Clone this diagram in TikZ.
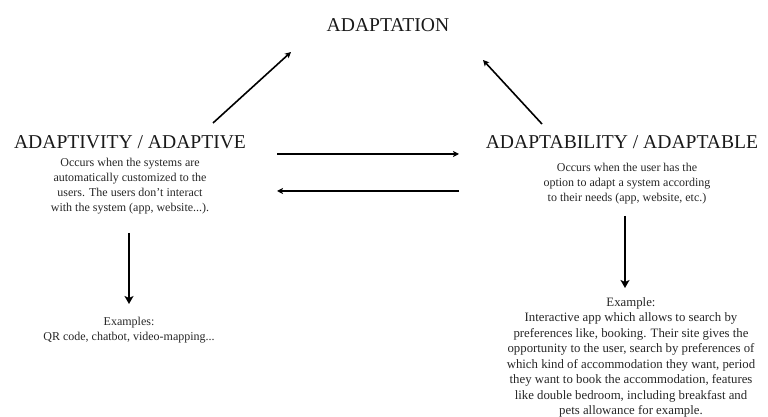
\documentclass[tikz,border=0pt]{standalone}
\usepackage{fontspec}
\setmainfont{Liberation Serif}
\usetikzlibrary{arrows.meta, positioning}
\tikzset{
    title/.style={font=\fontsize{19.6}{22}\selectfont, inner sep=0pt, text=black!90},
    body/.style={font=\fontsize{12}{15}\selectfont, align=center, inner sep=0pt, text=black!85},
    arrow/.style={-{Stealth[length=6pt, width=6pt, inset=1.5pt]}, line width=1.6pt},
    downarrow/.style={-{Stealth[length=8pt, width=9pt, inset=2pt]}, line width=2.6pt}
}

\begin{document}
\begin{tikzpicture}[x=1pt, y=1pt]
    \useasboundingbox (0,0) rectangle (768,417);
    % Top concept
    \node[title] (adaptation) at (388,392) {ADAPTATION};
    % The two kinds
    \node[title] (adaptive) at (130,275) {ADAPTIVITY / ADAPTIVE};
    \node[title] (adaptable) at (622,275) {ADAPTABILITY / ADAPTABLE};
    \node[body] (adaptivetext) at (130,230.5) {Occurs when the systems are\\ automatically customized to the\\ users. The users don't interact\\ with the system (app, website...).};
    \node[body] (adaptabletext) at (627,233) {Occurs when the user has the\\ option to adapt a system according\\ to their needs (app, website, etc.)};
    % Examples
    \node[body] (examples) at (129,87) {Examples:\\ QR code, chatbot, video-mapping...};
    \node[body, font=\fontsize{12.8}{15.5}\selectfont] (example) at (631,59.5) {Example:\\ Interactive app which allows to search by\\ preferences like, booking. Their site gives the\\ opportunity to the user, search by preferences of\\ which kind of accommodation they want, period\\ they want to book the accommodation, features\\ like double bedroom, including breakfast and\\ pets allowance for example.};

    % Connections
    \draw[arrow] ([shift={(83,19)}]adaptive.center) -- ([shift={(-97,-27)}]adaptation.center);
    \draw[arrow] ([shift={(-80,18)}]adaptable.center) -- ([shift={(95,-35)}]adaptation.center);
    \draw[arrow] ([shift={(147,-12)}]adaptive.center) -- ([shift={(-163,-12)}]adaptable.center);
    \draw[arrow] ([shift={(-163,-49)}]adaptable.center) -- ([shift={(147,-49)}]adaptive.center);
    \draw[downarrow] ([shift={(-1,-46.5)}]adaptivetext.center) -- ([shift={(0,26)}]examples.center);
    \draw[downarrow] ([shift={(-2,-32)}]adaptabletext.center) -- ([shift={(-6,69.5)}]example.center);
\end{tikzpicture}
\end{document}
